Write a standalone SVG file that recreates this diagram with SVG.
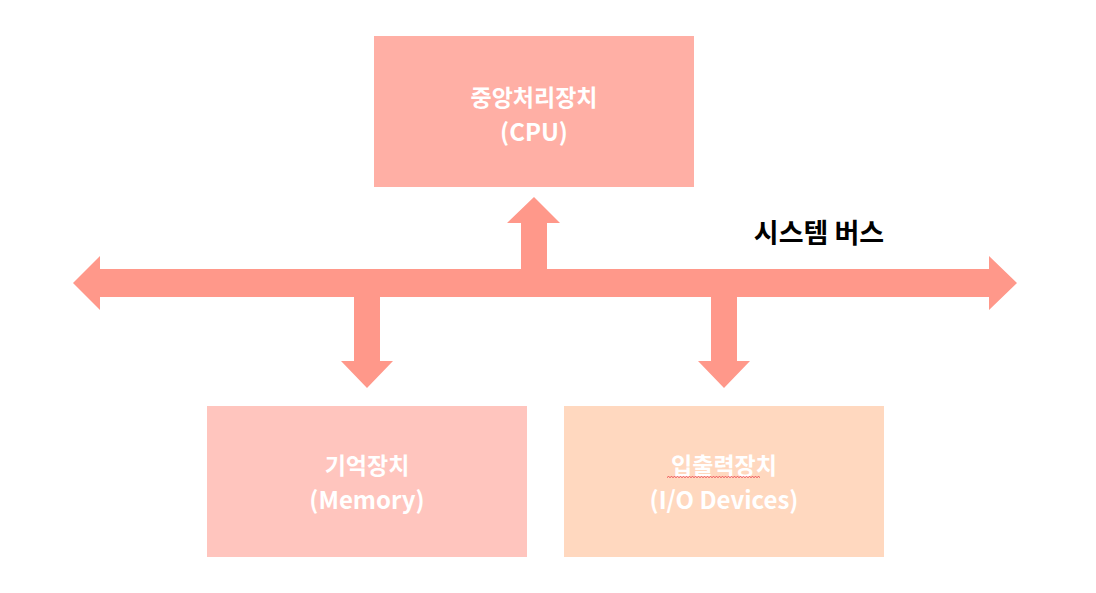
<svg xmlns="http://www.w3.org/2000/svg" width="1096" height="593" viewBox="0 0 1096 593">
<style>
.lbl{font-family:"Noto Sans CJK KR","Noto Sans",sans-serif;font-weight:bold;fill:#ffffff;text-anchor:middle}
.k{font-size:23px}
.e{font-size:24px}
.bus{font-family:"Noto Sans CJK KR","Noto Sans",sans-serif;font-weight:bold;font-size:27px;fill:#000000;text-anchor:middle}
.arr{fill:#FF988A}
</style>
<rect width="1096" height="593" fill="#ffffff"/>
<g id="connectors">
<polygon class="arr" points="73,283 100,256 100,269 989,269 989,256 1017,283 989,310 989,297 100,297 100,310"/>
<polygon class="arr" points="521,269 521,223 507,223 534,197 560,223 547,223 547,269"/>
<polygon class="arr" points="354,297 380,297 380,361 393,361 367,388 341,361 354,361"/>
<polygon class="arr" points="711,297 737,297 737,361 750,361 724,388 698,361 711,361"/>
</g>
<g id="bus-label"><text class="bus" x="819" y="243">시스템 버스</text></g>
<g id="cpu">
<rect x="374" y="36" width="320" height="151" fill="#FFAFA5"/>
<text class="lbl k" x="534" y="106">중앙처리장치</text>
<text class="lbl e" x="534" y="141">(CPU)</text>
</g>
<g id="memory">
<rect x="207" y="406" width="320" height="151" fill="#FFC5BE"/>
<text class="lbl k" x="367" y="474">기억장치</text>
<text class="lbl e" x="367" y="509">(Memory)</text>
</g>
<g id="io">
<rect x="564" y="406" width="320" height="151" fill="#FFD8BF"/>
<text class="lbl k" x="724" y="474">입출력장치</text>
<text class="lbl e" x="724" y="509">(I/O Devices)</text>
<path d="M 667 477.5 l 1.5 -1 1.5 1 1.5 -1 1.5 1 1.5 -1 1.5 1 1.5 -1 1.5 1 1.5 -1 1.5 1 1.5 -1 1.5 1 1.5 -1 1.5 1 1.5 -1 1.5 1 1.5 -1 1.5 1 1.5 -1 1.5 1 1.5 -1 1.5 1 1.5 -1 1.5 1 1.5 -1 1.5 1 1.5 -1 1.5 1 1.5 -1 1.5 1 1.5 -1 1.5 1 1.5 -1 1.5 1 1.5 -1 1.5 1 1.5 -1 1.5 1 1.5 -1 1.5 1 1.5 -1 1.5 1 1.5 -1 1.5 1 1.5 -1 1.5 1 1.5 -1 1.5 1 1.5 -1 1.5 1 1.5 -1 1.5 1 1.5 -1 1.5 1 1.5 -1 1.5 1 1.5 -1 1.5 1 1.5 -1 1.5 1 1.5 -1 1.5 1" fill="none" stroke="#E8303A" stroke-width="0.8"/>
</g>
</svg>
